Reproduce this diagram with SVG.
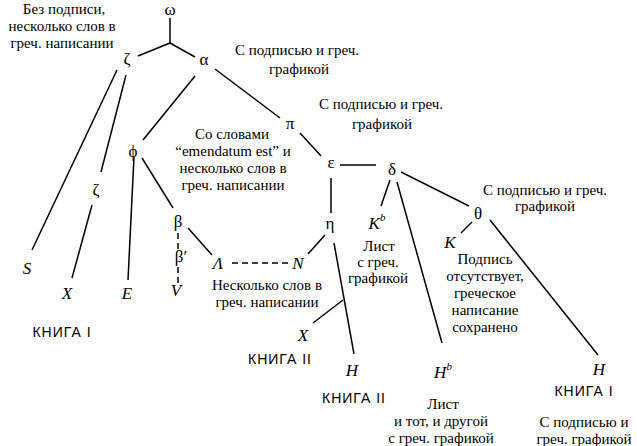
<svg xmlns="http://www.w3.org/2000/svg" width="637" height="446" viewBox="0 0 637 446">
<style>
.bg{fill:#fff}
.c line{stroke:#000;stroke-width:1.5;fill:none}
.c line.d{stroke-dasharray:6 4}
.g{font-family:"Liberation Serif","DejaVu Serif",serif;font-size:17px;fill:#000;text-anchor:middle}
.m{font-family:"Liberation Serif","DejaVu Serif",serif;font-style:italic;font-size:17px;fill:#000;text-anchor:middle}
.t{font-family:"Liberation Serif","DejaVu Serif",serif;font-size:15px;fill:#000;text-anchor:middle}
.b{font-family:"Liberation Sans","DejaVu Sans",sans-serif;font-size:14px;letter-spacing:1px;fill:#000;text-anchor:middle}
.sup{font-size:11px}
</style>
<rect class="bg" width="637" height="446"/>
<g class="c" id="connectors">
<line x1="170" y1="18" x2="170" y2="43"/>
<line x1="170" y1="43" x2="138" y2="56"/>
<line x1="170" y1="43" x2="195" y2="57"/>
<line x1="117" y1="70" x2="32" y2="250"/>
<line x1="126" y1="75" x2="101" y2="172"/>
<line x1="92" y1="205" x2="72" y2="278"/>
<line x1="195" y1="76" x2="143" y2="140"/>
<line x1="215" y1="69" x2="280" y2="118"/>
<line x1="300" y1="133" x2="321" y2="156"/>
<line x1="340" y1="165" x2="376" y2="165"/>
<line x1="331" y1="178" x2="331" y2="213"/>
<line x1="325" y1="235" x2="308" y2="254"/>
<line x1="334" y1="243" x2="354" y2="354"/>
<line x1="343" y1="300" x2="313" y2="323"/>
<line x1="134" y1="157" x2="128" y2="280"/>
<line x1="142" y1="158" x2="173" y2="208"/>
<line class="d" x1="178" y1="233" x2="178" y2="249"/>
<line class="d" x1="178" y1="267" x2="178" y2="287"/>
<line x1="188" y1="228" x2="212" y2="255"/>
<line class="d" x1="232" y1="263" x2="290" y2="263"/>
<line x1="390" y1="180" x2="381" y2="206"/>
<line x1="397" y1="182" x2="442" y2="343"/>
<line x1="401" y1="172" x2="469" y2="206"/>
<line x1="472" y1="222" x2="461" y2="233"/>
<line x1="490" y1="220" x2="598" y2="355"/>
</g>
<g id="omega"><text class="g" x="170" y="15">ω</text></g>
<g id="zeta"><text class="g" x="127" y="64">ζ</text></g>
<g id="alpha"><text class="g" x="204" y="65">α</text></g>
<g id="pi"><text class="g" x="290" y="129">π</text></g>
<g id="phi"><text class="g" x="133" y="157">ϕ</text></g>
<g id="epsilon"><text class="g" x="331" y="168">ε</text></g>
<g id="delta"><text class="g" x="392" y="175">δ</text></g>
<g id="theta"><text class="g" x="478" y="219">θ</text></g>
<g id="eta"><text class="g" x="330" y="229">η</text></g>
<g id="beta"><text class="g" x="178" y="227">β</text></g>
<g id="zeta2"><text class="g" x="96" y="195">ζ</text></g>
<g id="beta2"><text class="g" x="181" y="262">β′</text></g>
<g id="S"><text class="m" x="27" y="274">S</text></g>
<g id="X1"><text class="m" x="67" y="299">X</text></g>
<g id="E"><text class="m" x="127" y="299">E</text></g>
<g id="V"><text class="m" x="176" y="296">V</text></g>
<g id="Lambda"><text class="m" x="218" y="269">Λ</text></g>
<g id="N"><text class="m" x="298" y="269">N</text></g>
<g id="Kb"><text class="m" x="377" y="229">K<tspan class="sup" dy="-8">b</tspan></text></g>
<g id="K"><text class="m" x="450" y="248">K</text></g>
<g id="X2"><text class="m" x="303" y="341">X</text></g>
<g id="H1"><text class="m" x="352" y="376">H</text></g>
<g id="Hb"><text class="m" x="443" y="378">H<tspan class="sup" dy="-8">b</tspan></text></g>
<g id="H2"><text class="m" x="599" y="375">H</text></g>
<g id="labels">
<text class="t" x="64" y="14">Без подписи,</text>
<text class="t" x="62" y="31">несколько слов в</text>
<text class="t" x="62" y="48">греч. написании</text>
<text class="t" x="297" y="55">С подписью и греч.</text>
<text class="t" x="299" y="74">графикой</text>
<text class="t" x="381" y="109">С подписью и греч.</text>
<text class="t" x="382" y="129">графикой</text>
<text class="t" x="232" y="139">Со словами</text>
<text class="t" x="233" y="156">“emendatum est” и</text>
<text class="t" x="233" y="173">несколько слов в</text>
<text class="t" x="233" y="190">греч. написании</text>
<text class="t" x="545" y="195">С подписью и греч.</text>
<text class="t" x="545" y="211">графикой</text>
<text class="t" x="379" y="251">Лист</text>
<text class="t" x="378" y="267">с греч.</text>
<text class="t" x="378" y="283">графикой</text>
<text class="t" x="485" y="264">Подпись</text>
<text class="t" x="485" y="281">отсутствует,</text>
<text class="t" x="485" y="298">греческое</text>
<text class="t" x="485" y="315">написание</text>
<text class="t" x="485" y="332">сохранено</text>
<text class="t" x="267" y="290">Несколько слов в</text>
<text class="t" x="267" y="307">греч. написании</text>
<text class="b" x="62" y="337">КНИГА I</text>
<text class="b" x="280" y="364">КНИГА II</text>
<text class="b" x="354" y="403">КНИГА II</text>
<text class="b" x="584" y="396">КНИГА I</text>
<text class="t" x="443" y="409">Лист</text>
<text class="t" x="441" y="426">и тот, и другой</text>
<text class="t" x="441" y="443">с греч. графикой</text>
<text class="t" x="584" y="427">С подписью и</text>
<text class="t" x="584" y="444">греч. графикой</text>
</g>
</svg>
